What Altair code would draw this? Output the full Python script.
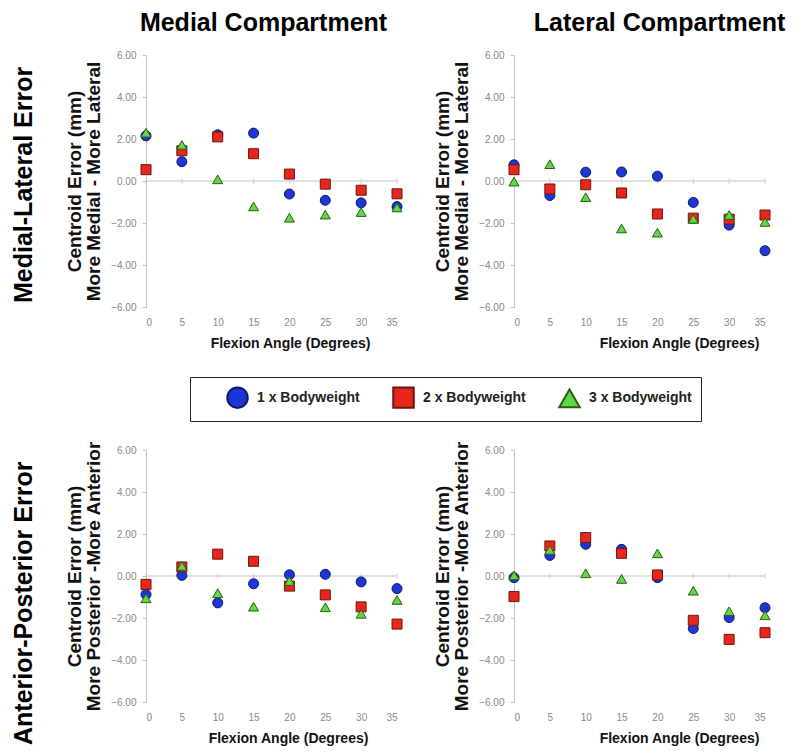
import altair as alt
import pandas as pd

angles = [0, 5, 10, 15, 20, 25, 30, 35]
series_names = ["1 x Bodyweight", "2 x Bodyweight", "3 x Bodyweight"]
fill_colors = ["#1c36d8", "#e8261c", "#5fd845"]
stroke_colors = ["#0d1a66", "#6e140e", "#2f5c12"]
shapes = ["circle", "square", "triangle-up"]

# Medial-Lateral error
ml_medial_1 = [2.15, 0.92, 2.2, 2.28, -0.62, -0.92, -1.04, -1.22]
ml_medial_2 = [0.54, 1.44, 2.1, 1.3, 0.33, -0.15, -0.44, -0.61]
ml_medial_3 = [2.3, 1.72, 0.08, -1.21, -1.75, -1.6, -1.48, -1.26]

ml_lateral_1 = [0.77, -0.69, 0.42, 0.43, 0.23, -1.02, -2.1, -3.32]
ml_lateral_2 = [0.54, -0.38, -0.18, -0.57, -1.57, -1.77, -1.82, -1.62]
ml_lateral_3 = [-0.03, 0.8, -0.77, -2.26, -2.46, -1.8, -1.62, -1.95]

# Anterior-Posterior error
ap_medial_1 = [-0.88, 0.03, -1.28, -0.37, 0.06, 0.08, -0.28, -0.6]
ap_medial_2 = [-0.4, 0.43, 1.04, 0.7, -0.48, -0.9, -1.47, -2.29]
ap_medial_3 = [-1.06, 0.48, -0.82, -1.46, -0.24, -1.49, -1.8, -1.14]

ap_lateral_1 = [-0.08, 0.98, 1.51, 1.27, -0.08, -2.5, -1.98, -1.51]
ap_lateral_2 = [-0.98, 1.43, 1.83, 1.08, 0.05, -2.11, -3.02, -2.7]
ap_lateral_3 = [0.03, 1.24, 0.13, -0.14, 1.08, -0.7, -1.68, -1.87]

y_ticks = [-6, -4, -2, 0, 2, 4, 6]
ml_title = ["Centroid Error (mm)", "More Medial - More Lateral"]
ap_title = ["Centroid Error (mm)", "More Posterior -More Anterior"]
x_title = "Flexion Angle (Degrees)"

FONT = "Liberation Sans"
W, H = 251, 252


def make_df(v1, v2, v3):
    rows = []
    for name, vals in zip(series_names, [v1, v2, v3]):
        for a, v in zip(angles, vals):
            rows.append({"angle": a, "error": v, "series": name})
    return pd.DataFrame(rows)


legend = alt.Legend(
    orient="none", legendX=44, legendY=322, direction="horizontal",
    title="\u2003", titleOrient="left", titleFontSize=14, titlePadding=27,
    labelFontSize=14, labelFontWeight="bold", labelColor="#222", labelFont=FONT,
    symbolSize=420, symbolStrokeWidth=2, strokeColor="#222", fillColor="white",
    padding=9, columnPadding=29, labelOffset=8,
)


def panel(df, ytitle, title_text=None, title_dx=0, xtitle_x=145):
    xsc = alt.Scale(domain=[0, 35], nice=False, zero=False)
    ysc = alt.Scale(domain=[-6, 6], nice=False)
    xaxis = alt.Axis(
        values=angles, domain=False, ticks=False, grid=False, labelPadding=10,
        labelColor="#888", labelFontSize=10, labelFont=FONT,
        titleFontSize=14, titleFontWeight="bold", titleColor="#111", titleFont=FONT,
        titlePadding=9, titleX=xtitle_x, titleAlign="center")
    yaxis = alt.Axis(
        values=y_ticks, format=".2f", grid=False, domainColor="#c4c4c4", tickColor="#c4c4c4",
        tickSize=4, labelColor="#888", labelFontSize=10, labelFont=FONT, labelPadding=6,
        titleFontSize=19, titleFontWeight="bold", titleColor="#111", titleFont=FONT,
        titlePadding=7, titleLineHeight=19)
    zero_df = pd.DataFrame({"angle": [angles[0]], "angle2": [angles[-1]], "error": [0]})
    tick_df = pd.DataFrame({"angle": angles, "error": [0] * len(angles)})
    xenc = alt.X("angle:Q", scale=xsc, title=x_title, axis=xaxis)
    yenc = alt.Y("error:Q", scale=ysc, title=ytitle, axis=yaxis)
    zero = alt.Chart(zero_df).mark_rule(color="#c4c4c4", strokeWidth=1).encode(
        x=xenc, x2="angle2:Q", y=yenc)
    ticks = alt.Chart(tick_df).mark_tick(orient="vertical", size=6, thickness=1, color="#c4c4c4").encode(
        x=xenc, y=yenc)
    pts = alt.Chart(df).mark_point(filled=True, size=100, strokeWidth=1, opacity=1).encode(
        x=xenc, y=yenc,
        fill=alt.Fill("series:N", title=None, scale=alt.Scale(domain=series_names, range=fill_colors), legend=legend),
        stroke=alt.Stroke("series:N", title=None, scale=alt.Scale(domain=series_names, range=stroke_colors), legend=legend),
        shape=alt.Shape("series:N", title=None, scale=alt.Scale(domain=series_names, range=shapes), legend=legend),
    )
    ch = alt.layer(zero, ticks, pts).properties(width=W, height=H)
    if title_text:
        ch = ch.properties(title=alt.TitleParams(title_text, fontSize=25, fontWeight="bold", font=FONT,
                                                 color="#000", offset=14, dx=title_dx))
    return ch


tl = panel(make_df(ml_medial_1, ml_medial_2, ml_medial_3), ml_title, "Medial Compartment", -8, 144)
tr = panel(make_df(ml_lateral_1, ml_lateral_2, ml_lateral_3), ml_title, "Lateral Compartment", 20, 165)
bl = panel(make_df(ap_medial_1, ap_medial_2, ap_medial_3), ap_title, None, 0, 142)
br = panel(make_df(ap_lateral_1, ap_lateral_2, ap_lateral_3), ap_title, None, 0, 165)

row1 = alt.hconcat(tl, tr, spacing=29, title=alt.TitleParams(
    "Medial-Lateral Error", orient="left", fontSize=25, fontWeight="bold", font=FONT, color="#000",
    offset=29, dx=47))
row2 = alt.hconcat(bl, br, spacing=29, title=alt.TitleParams(
    "Anterior-Posterior Error", orient="left", fontSize=25, fontWeight="bold", font=FONT, color="#000", offset=29))

chart = alt.vconcat(row1, row2, spacing=90).properties(
    padding={"left": 3, "top": 3, "right": 5, "bottom": 3}
).configure(font=FONT, background="white").configure_view(stroke=None)

chart.save("out.html", embed_options={"renderer": "svg", "actions": False})
